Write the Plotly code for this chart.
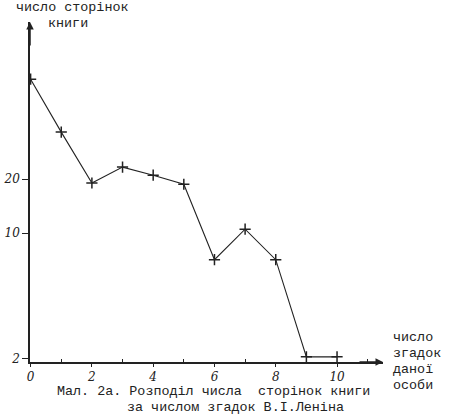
import plotly.graph_objects as go
import math

# data (log-scaled y axis)
mentions = [0, 1, 2, 3, 4, 5, 6, 7, 8, 9, 10]
pages = [72, 36.5, 19, 23.3, 21, 18.7, 7.1, 10.5, 7.1, 2.04, 2.04]
x_ticks = [0, 2, 4, 6, 8, 10]
x_tick_text = ["0", "2", "4", "6", "8", "10"]
y_ticks = [2, 10, 20]
y_tick_text = ["2", "10", "20"]

mono = "Liberation Mono"
ink = "#222222"

W, H = 450, 419
L, R, T, B = 30, 67, 22, 57
PW, PH = W - L - R, H - T - B

fig = go.Figure()
fig.add_trace(go.Scatter(
    x=mentions, y=pages, mode="lines+markers",
    line=dict(color=ink, width=1.1),
    marker=dict(symbol="cross-thin-open", size=8, color=ink,
                line=dict(color=ink, width=1.5)),
    showlegend=False,
))

fig.update_layout(
    width=W, height=H,
    margin=dict(l=L, r=R, t=T, b=B, autoexpand=False),
    paper_bgcolor="white", plot_bgcolor="white",
    xaxis=dict(
        range=[-0.02, 11.5], showgrid=False, zeroline=False, automargin=False,
        showline=True, linecolor=ink, linewidth=1.5,
        tickvals=x_ticks, ticktext=x_tick_text,
        ticks="outside", ticklen=3, tickcolor=ink, ticklabelstandoff=0,
        tickfont=dict(family="DejaVu Serif", size=12, color=ink, style="italic"),
        minor=dict(tickvals=[1, 3, 5, 7, 9, 11], ticks="inside", ticklen=3, tickcolor=ink),
    ),
    yaxis=dict(
        type="log", range=[math.log10(1.91), math.log10(150)],
        showgrid=False, zeroline=False, automargin=False,
        showline=True, linecolor=ink, linewidth=1.5,
        tickvals=y_ticks, ticktext=y_tick_text,
        ticks="outside", ticklen=6, tickcolor=ink,
        tickfont=dict(family="DejaVu Serif", size=12, color=ink, style="italic"),
    ),
)

# axis arrows
fig.add_annotation(x=0, y=1, xref="paper", yref="paper", text="", showarrow=True,
                   ax=0, ay=25, arrowhead=2, arrowsize=1, arrowwidth=1.5, arrowcolor=ink)
fig.add_annotation(x=1, y=0, xref="paper", yref="paper", text="", showarrow=True,
                   ax=-25, ay=0, arrowhead=2, arrowsize=1, arrowwidth=1.5, arrowcolor=ink)


def pix_text(text, px, py, size, xanchor="left"):
    fig.add_annotation(text=text, x=(px - L) / PW, y=1 - (py - T) / PH,
                       xref="paper", yref="paper",
                       xanchor=xanchor, yanchor="middle", showarrow=False,
                       font=dict(family=mono, size=size, color=ink))


FS = 13.4
pix_text("число сторінок", 72, 8, FS, "center")
pix_text("книги", 68, 24, FS, "center")
pix_text("число", 391, 337, FS)
pix_text("згадок", 391, 353, FS)
pix_text("даної", 391, 369, FS)
pix_text("особи", 391, 385, FS)
pix_text("Мал. 2а. Розподіл числа  сторінок книги", 55, 391, FS)
pix_text("за числом згадок В.І.Леніна", 125, 407, FS)

fig.write_html("out.html", config={"displayModeBar": False},
               post_script="document.body.style.margin='0';document.body.style.overflow='hidden';")
